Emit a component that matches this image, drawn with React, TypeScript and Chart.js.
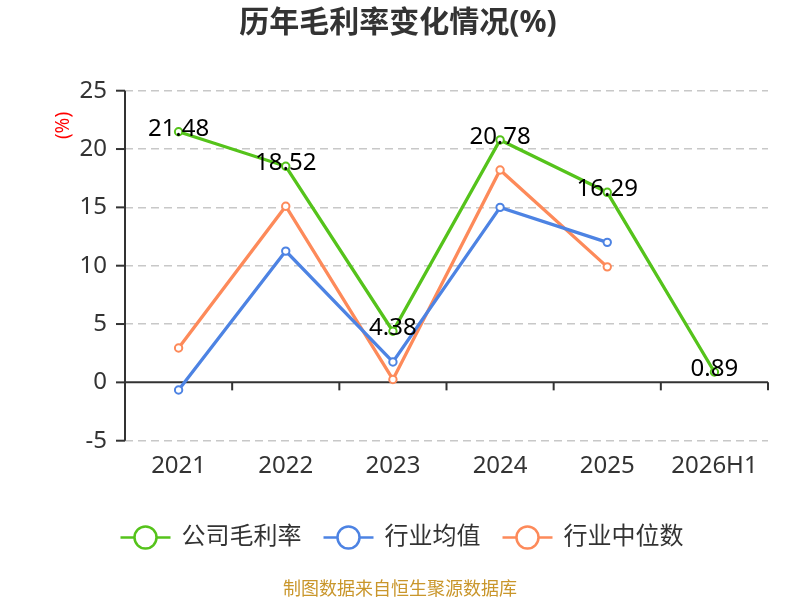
import React, { useEffect, useRef } from "react";
import { Chart, registerables } from "chart.js";

Chart.register(...registerables);

const categories = ["2021", "2022", "2023", "2024", "2025", "2026H1"];
const companyMargin = [21.48, 18.52, 4.38, 20.78, 16.29, 0.89];
const industryAverage = [-0.65, 11.25, 1.75, 15.0, 12.0, null];
const industryMedian = [2.95, 15.1, 0.25, 18.2, 9.9, null];
const seriesNames = ["公司毛利率", "行业均值", "行业中位数"];
const seriesColors = ["#55c31b", "#4d83e3", "#fd8a5a"];
const yMin = -5;
const yMax = 25;
const yStep = 5;
const titleText = "历年毛利率变化情况(%)";
const yTitle = "(%)";
const footerText = "制图数据来自恒生聚源数据库";

const FONT = '"Noto Sans", "Noto Sans CJK SC", sans-serif';

const decorPlugin = {
  id: "decor",
  beforeDatasetsDraw(chart: any) {
    const { ctx, chartArea, scales } = chart;
    const x = scales.x;
    const y = scales.y;
    ctx.save();
    ctx.strokeStyle = "#333";
    ctx.lineWidth = 2;
    ctx.setLineDash([]);
    ctx.beginPath();
    ctx.moveTo(chartArea.left, chartArea.top);
    ctx.lineTo(chartArea.left, chartArea.bottom);
    ctx.stroke();
    y.ticks.forEach((t: any) => {
      const py = y.getPixelForValue(t.value);
      ctx.beginPath();
      ctx.moveTo(chartArea.left - 9, py);
      ctx.lineTo(chartArea.left, py);
      ctx.stroke();
    });
    const zy = y.getPixelForValue(0);
    ctx.beginPath();
    ctx.moveTo(chartArea.left, zy);
    ctx.lineTo(chartArea.right, zy);
    ctx.stroke();
    const n = categories.length;
    const bounds: number[] = [chartArea.left];
    for (let i = 0; i < n - 1; i++) {
      bounds.push((x.getPixelForValue(i) + x.getPixelForValue(i + 1)) / 2);
    }
    bounds.push(chartArea.right);
    bounds.forEach((bx) => {
      ctx.beginPath();
      ctx.moveTo(bx, zy);
      ctx.lineTo(bx, zy + 8);
      ctx.stroke();
    });
    ctx.restore();
  },
  afterDatasetsDraw(chart: any) {
    const { ctx } = chart;
    const meta = chart.getDatasetMeta(0);
    ctx.save();
    ctx.font = `24px ${FONT}`;
    ctx.fillStyle = "#000";
    ctx.textAlign = "center";
    ctx.textBaseline = "middle";
    meta.data.forEach((pt: any, i: number) => {
      const v = companyMargin[i];
      if (v === null || v === undefined) return;
      ctx.fillText(v.toFixed(2), pt.x, pt.y - 3);
    });
    ctx.restore();
  },
  afterDraw(chart: any) {
    const { ctx } = chart;
    ctx.save();
    ctx.font = `bold 30px ${FONT}`;
    ctx.fillStyle = "#333";
    ctx.textAlign = "center";
    ctx.textBaseline = "middle";
    ctx.fillText(titleText, 398, 23.5);
    ctx.save();
    ctx.translate(63.5, 125.5);
    ctx.rotate(-Math.PI / 2);
    ctx.font = `19px ${FONT}`;
    ctx.fillStyle = "#ff0000";
    ctx.fillText(yTitle, 0, 0);
    ctx.restore();
    ctx.font = `24px ${FONT}`;
    const symW = 50;
    const gapText = 11;
    const gapItem = 22;
    const widths = seriesNames.map((s) => ctx.measureText(s).width);
    let total = 0;
    widths.forEach((w, i) => {
      total += symW + gapText + w + (i < widths.length - 1 ? gapItem : 0);
    });
    let lx = 402 - total / 2;
    const ly = 537.5;
    seriesNames.forEach((s, i) => {
      ctx.strokeStyle = seriesColors[i];
      ctx.lineWidth = 2.5;
      ctx.beginPath();
      ctx.moveTo(lx, ly);
      ctx.lineTo(lx + symW, ly);
      ctx.stroke();
      ctx.beginPath();
      ctx.arc(lx + symW / 2, ly, 11, 0, Math.PI * 2);
      ctx.fillStyle = "#fff";
      ctx.fill();
      ctx.stroke();
      ctx.fillStyle = "#333";
      ctx.textAlign = "left";
      ctx.fillText(s, lx + symW + gapText, ly);
      lx += symW + gapText + widths[i] + gapItem;
    });
    ctx.font = `18px ${FONT}`;
    ctx.fillStyle = "#c9962b";
    ctx.textAlign = "center";
    ctx.fillText(footerText, 400, 589.5);
    ctx.restore();
  },
};

export default function App() {
  const canvasRef = useRef<HTMLCanvasElement | null>(null);

  useEffect(() => {
    document.body.style.margin = "0";
    const canvas = canvasRef.current;
    if (!canvas) return;
    const makeDs = (label: string, data: any[], color: string) => ({
      label,
      data,
      borderColor: color,
      backgroundColor: "#fff",
      borderWidth: 3.3,
      pointRadius: 3.7,
      pointBorderWidth: 2,
      pointBackgroundColor: "#fff",
      pointBorderColor: color,
      tension: 0,
      spanGaps: false,
    });
    const chart = new Chart(canvas, {
      type: "line",
      data: {
        labels: categories,
        datasets: [
          makeDs(seriesNames[0], companyMargin, seriesColors[0]),
          makeDs(seriesNames[1], industryAverage, seriesColors[1]),
          makeDs(seriesNames[2], industryMedian, seriesColors[2]),
        ],
      },
      options: {
        responsive: false,
        animation: false,
        devicePixelRatio: 1,
        layout: { padding: { top: 90.7, left: 0, right: 32, bottom: 100 } },
        plugins: {
          legend: { display: false },
          title: { display: false },
          tooltip: { enabled: false },
        },
        scales: {
          x: {
            type: "category",
            offset: true,
            grid: { display: false, drawTicks: false },
            border: { display: false },
            ticks: {
              font: { size: 24, family: FONT },
              color: "#333",
              padding: 11,
              maxRotation: 0,
              autoSkip: false,
            },
            afterFit: (s: any) => {
              s.height = 59.3;
            },
          },
          y: {
            min: yMin,
            max: yMax,
            ticks: {
              stepSize: yStep,
              font: { size: 24, family: FONT },
              color: "#333",
              padding: 18,
            },
            grid: {
              color: (c: any) => (c.tick && c.tick.value === 0 ? "rgba(0,0,0,0)" : "#c8c8c8"),
              lineWidth: 1.5,
              drawTicks: false,
              borderDash: [8, 5],
            },
            border: { display: false, dash: [8, 5] },
            afterFit: (s: any) => {
              s.width = 125;
            },
          },
        },
      } as any,
      plugins: [decorPlugin],
    });
    return () => chart.destroy();
  }, []);

  return (
    <div style={{ width: 800, height: 600, position: "relative", background: "#fff" }}>
      <canvas ref={canvasRef} width={800} height={600} style={{ width: 800, height: 600, display: "block" }} />
    </div>
  );
}
